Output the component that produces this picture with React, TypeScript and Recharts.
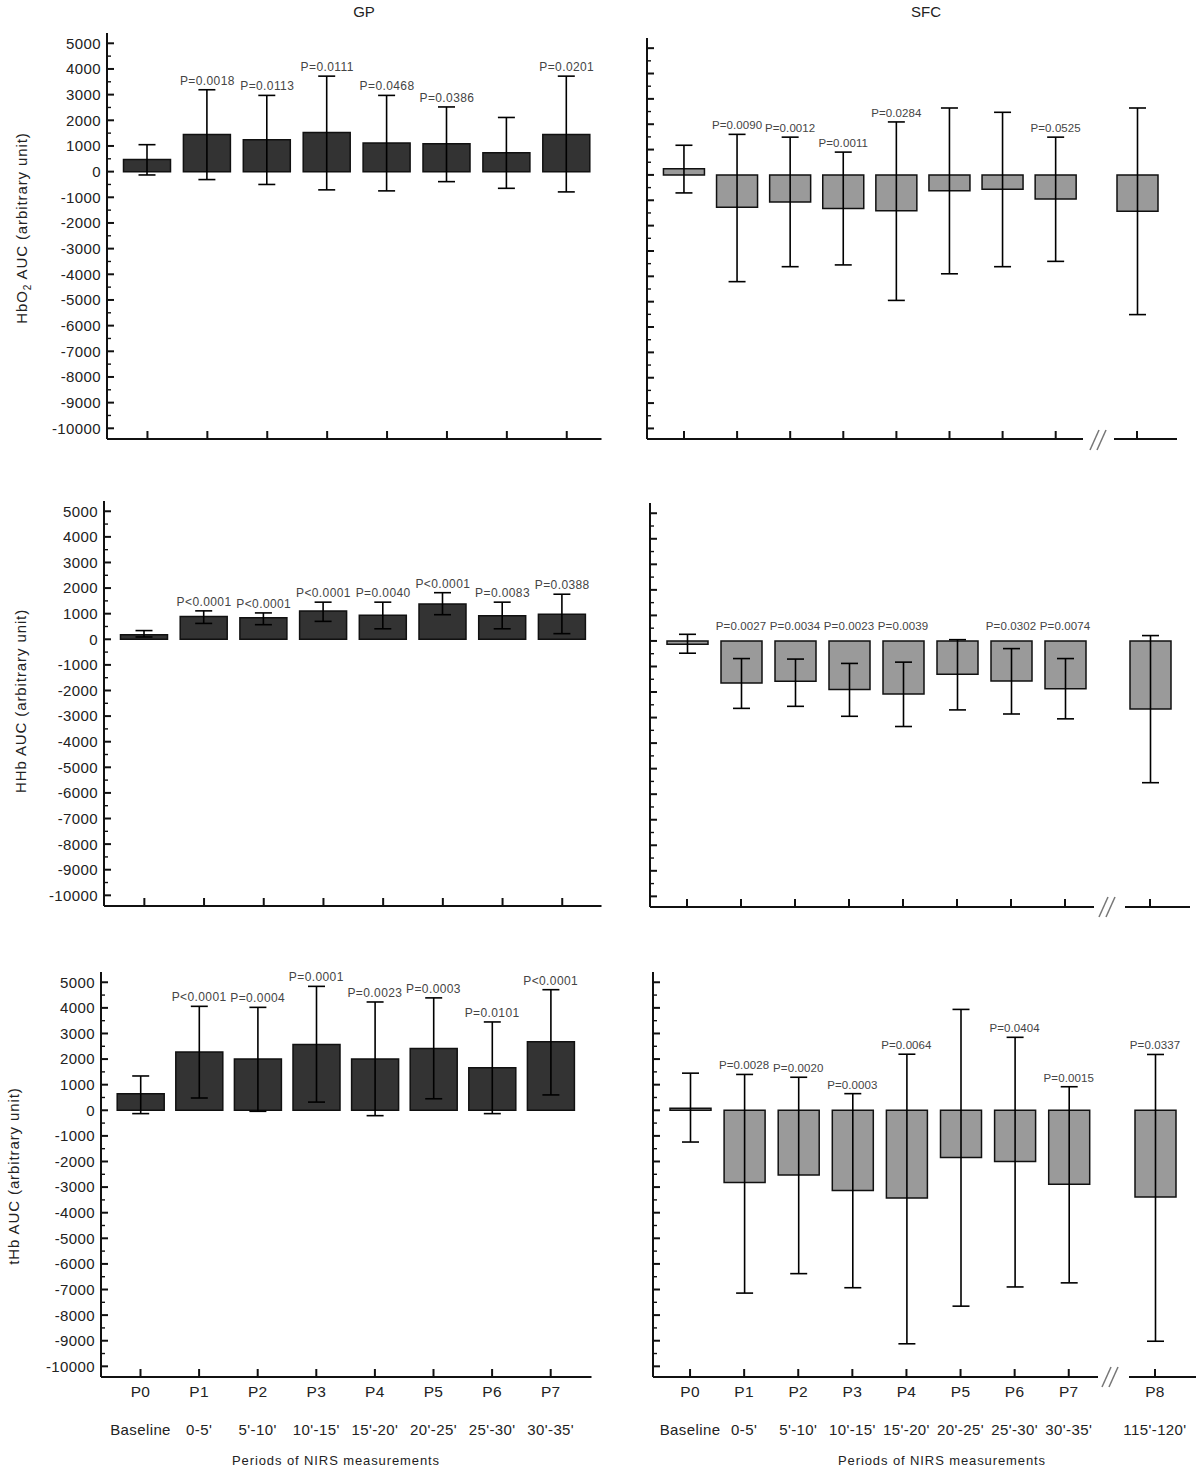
import React from 'react'
import { ComposedChart, Bar, ErrorBar, Line, LabelList, XAxis, YAxis } from 'recharts'

const periods = ['P0', 'P1', 'P2', 'P3', 'P4', 'P5', 'P6', 'P7', 'P8']
const windows = ['Baseline', "0-5'", "5'-10'", "10'-15'", "15'-20'", "20'-25'", "25'-30'", "30'-35'", "115'-120'"]
const majorTicks = [5000, 4000, 3000, 2000, 1000, 0, -1000, -2000, -3000, -4000, -5000, -6000, -7000, -8000, -9000, -10000]

// GP - HbO2
const gpHbo2Mean = [470, 1450, 1240, 1520, 1120, 1090, 740, 1450]
const gpHbo2Lo = [-130, -310, -500, -710, -750, -390, -650, -790]
const gpHbo2Hi = [1050, 3190, 2970, 3720, 2970, 2520, 2110, 3720]
const gpHbo2P = ['', 'P=0.0018', 'P=0.0113', 'P=0.0111', 'P=0.0468', 'P=0.0386', '', 'P=0.0201']

// SFC - HbO2
const sfcHbo2Mean = [240, -1280, -1070, -1320, -1410, -620, -570, -950, -1430]
const sfcHbo2Lo = [-710, -4210, -3620, -3550, -4950, -3900, -3620, -3410, -5510]
const sfcHbo2Hi = [1170, 1600, 1490, 900, 2090, 2640, 2470, 1490, 2640]
const sfcHbo2P = ['', 'P=0.0090', 'P=0.0012', 'P=0.0011', 'P=0.0284', '', '', 'P=0.0525', '']

// GP - HHb
const gpHhbMean = [180, 890, 840, 1100, 940, 1380, 920, 980]
const gpHhbLo = [90, 620, 570, 700, 410, 960, 410, 220]
const gpHhbHi = [340, 1110, 1030, 1450, 1450, 1820, 1450, 1760]
const gpHhbP = ['', 'P<0.0001', 'P<0.0001', 'P<0.0001', 'P=0.0040', 'P<0.0001', 'P=0.0083', 'P=0.0388']

// SFC - HHb
const sfcHhbMean = [-130, -1650, -1580, -1900, -2080, -1300, -1570, -1870, -2660]
const sfcHhbLo = [-480, -2640, -2560, -2950, -3350, -2700, -2860, -3050, -5550]
const sfcHhbHi = [260, -690, -710, -880, -830, 50, -300, -690, 210]
const sfcHhbP = ['', 'P=0.0027', 'P=0.0034', 'P=0.0023', 'P=0.0039', '', 'P=0.0302', 'P=0.0074', '']

// GP - tHb
const gpThbMean = [650, 2280, 2000, 2570, 2000, 2410, 1660, 2680]
const gpThbLo = [-130, 480, -40, 320, -210, 450, -130, 600]
const gpThbHi = [1340, 4060, 4020, 4840, 4230, 4390, 3450, 4710]
const gpThbP = ['', 'P<0.0001', 'P=0.0004', 'P=0.0001', 'P=0.0023', 'P=0.0003', 'P=0.0101', 'P<0.0001']

// SFC - tHb
const sfcThbMean = [80, -2820, -2530, -3130, -3430, -1840, -2000, -2890, -3390]
const sfcThbLo = [-1240, -7140, -6380, -6930, -9120, -7650, -6900, -6740, -9020]
const sfcThbHi = [1450, 1400, 1290, 650, 2190, 3940, 2850, 920, 2180]
const sfcThbP = ['', 'P=0.0028', 'P=0.0020', 'P=0.0003', 'P=0.0064', '', 'P=0.0404', 'P=0.0015', 'P=0.0337']

const FONT = '"Liberation Sans", Arial, sans-serif'
const DARK = '#333333'
const GRAY = '#9a9a9a'
const DOMAIN: [number, number] = [-10417, 5401]
const allTicks = majorTicks.flatMap((t) => (t > -10000 ? [t, t - 500] : [t]))

type Row = { name: string; time: string; mean: number; err: [number, number]; labelY: number; p: string }

const buildRows = (mean: number[], lo: number[], hi: number[], p: string[], from: number, to: number, labelAt?: number): Row[] =>
  periods.slice(from, to).map((name, j) => {
    const i = from + j
    return {
      name,
      time: windows[i],
      mean: mean[i],
      err: [mean[i] - lo[i], hi[i] - mean[i]],
      labelY: labelAt ?? hi[i],
      p: p[i]
    }
  })

type Frame = { left: number; top: number; width: number; height: number }

interface PanelProps {
  data: Row[]
  frame: Frame
  fill: string
  barSize: number
  padL: number
  padR: number
  yAxis: 'labels' | 'ticks' | 'none'
  xLabels: boolean
  pSize?: number
  pSpacing?: number
}

const MT = 40
const SIDE = 30 // spare room so outer tick texts are not cut
const noDot = () => <g />

function Panel({ data, frame, fill, barSize, padL, padR, yAxis, xLabels, pSize = 12, pSpacing = 0.4 }: PanelProps) {
  const yw = yAxis === 'labels' ? 60 : yAxis === 'ticks' ? 10 : 0
  const hx = xLabels ? 95 : 14
  const width = SIDE + yw + frame.width + SIDE
  const height = MT + frame.height + hx
  const axisY = MT + frame.height
  const axisX = SIDE + yw

  const renderYTick = (props: any) => {
    const v = props.payload.value
    const major = v % 1000 === 0
    return (
      <g>
        <line x1={axisX} x2={axisX + (major ? 7 : 4)} y1={props.y} y2={props.y} stroke="#111" strokeWidth={major ? 2 : 1.4} />
        {yAxis === 'labels' && major && (
          <text x={axisX - 6} y={props.y} dy="0.36em" textAnchor="end" fontSize={15} letterSpacing={0.4} fill="#222" fontFamily={FONT}>
            {v}
          </text>
        )}
      </g>
    )
  }

  const renderXTick = (props: any) => {
    const idx = periods.indexOf(props.payload.value)
    return (
      <g>
        <line x1={props.x} x2={props.x} y1={axisY} y2={axisY - 8} stroke="#111" strokeWidth={2} />
        {xLabels && (
          <text x={props.x} y={axisY + 14} dy="0.36em" textAnchor="middle" fontSize={15.5} letterSpacing={0.3} fill="#222" fontFamily={FONT}>
            {props.payload.value}
          </text>
        )}
        {xLabels && (
          <text x={props.x} y={axisY + 53} dy="0.36em" textAnchor="middle" fontSize={15} letterSpacing={0.4} fill="#222" fontFamily={FONT}>
            {windows[idx]}
          </text>
        )}
      </g>
    )
  }

  return (
    <div style={{ position: 'absolute', left: frame.left - yw - SIDE, top: frame.top - MT }}>
      <ComposedChart width={width} height={height} data={data} margin={{ top: MT, right: SIDE, left: SIDE, bottom: 0 }}>
        <XAxis
          dataKey="name"
          type="category"
          height={hx}
          padding={{ left: padL, right: padR }}
          axisLine={{ stroke: '#111', strokeWidth: 2 }}
          tickLine={false}
          tick={renderXTick}
          interval={0}
        />
        <YAxis
          type="number"
          domain={DOMAIN}
          ticks={allTicks}
          interval={0}
          allowDataOverflow
          width={yw}
          hide={yAxis === 'none'}
          axisLine={{ stroke: '#111', strokeWidth: 2 }}
          tickLine={false}
          tick={renderYTick}
        />
        <Bar dataKey="mean" fill={fill} stroke="#111" strokeWidth={1.5} barSize={barSize} isAnimationActive={false}>
          <ErrorBar dataKey="err" width={8.5} stroke="#000" strokeWidth={1.6} direction="y" />
        </Bar>
        <Line dataKey="labelY" stroke="none" dot={noDot} activeDot={false} legendType="none" isAnimationActive={false}>
          <LabelList dataKey="p" position="top" offset={5} fill="#444" fontSize={pSize} letterSpacing={pSpacing} fontFamily={FONT} />
        </Line>
      </ComposedChart>
    </div>
  )
}

const BreakMark = ({ x, y }: { x: number; y: number }) => (
  <g stroke="#777" strokeWidth={1.5}>
    <line x1={x} y1={y + 10} x2={x + 9} y2={y - 10} />
    <line x1={x + 7} y1={y + 10} x2={x + 16} y2={y - 10} />
  </g>
)

export default function App() {
  return (
    <div style={{ position: 'absolute', left: 0, top: 0, width: 1200, height: 1471, background: '#fff', fontFamily: FONT, overflow: 'hidden' }}>
      {/* row 1: HbO2 */}
      <Panel data={buildRows(gpHbo2Mean, gpHbo2Lo, gpHbo2Hi, gpHbo2P, 0, 8)} frame={{ left: 106.5, top: 33, width: 494.5, height: 406 }}
        fill={DARK} barSize={47} padL={10.5} padR={4.8} yAxis="labels" xLabels={false} />
      <Panel data={buildRows(sfcHbo2Mean, sfcHbo2Lo, sfcHbo2Hi, sfcHbo2P, 0, 8)} frame={{ left: 647, top: 38, width: 436, height: 401 }}
        fill={GRAY} barSize={41} padL={10.45} padR={0.75} yAxis="ticks" xLabels={false} pSize={11.5} pSpacing={0.1} />
      <Panel data={buildRows(sfcHbo2Mean, sfcHbo2Lo, sfcHbo2Hi, sfcHbo2P, 8, 9)} frame={{ left: 1114, top: 38, width: 63, height: 401 }}
        fill={GRAY} barSize={41} padL={0} padR={17} yAxis="none" xLabels={false} pSize={11.5} pSpacing={0.1} />

      {/* row 2: HHb */}
      <Panel data={buildRows(gpHhbMean, gpHhbLo, gpHhbHi, gpHhbP, 0, 8)} frame={{ left: 103.5, top: 501, width: 497.5, height: 405 }}
        fill={DARK} barSize={47} padL={10.5} padR={9.4} yAxis="labels" xLabels={false} />
      <Panel data={buildRows(sfcHhbMean, sfcHhbLo, sfcHhbHi, sfcHhbP, 0, 8, 250)} frame={{ left: 650, top: 503, width: 444, height: 404 }}
        fill={GRAY} barSize={41} padL={10} padR={2} yAxis="ticks" xLabels={false} pSize={11.5} pSpacing={0.1} />
      <Panel data={buildRows(sfcHhbMean, sfcHhbLo, sfcHhbHi, sfcHhbP, 8, 9)} frame={{ left: 1125, top: 503, width: 65, height: 404 }}
        fill={GRAY} barSize={41} padL={0} padR={15} yAxis="none" xLabels={false} pSize={11.5} pSpacing={0.1} />

      {/* row 3: tHb */}
      <Panel data={buildRows(gpThbMean, gpThbLo, gpThbHi, gpThbP, 0, 8)} frame={{ left: 100.5, top: 972, width: 490.5, height: 405 }}
        fill={DARK} barSize={47} padL={10.2} padR={11.5} yAxis="labels" xLabels />
      <Panel data={buildRows(sfcThbMean, sfcThbLo, sfcThbHi, sfcThbP, 0, 8)} frame={{ left: 653, top: 972, width: 445, height: 405 }}
        fill={GRAY} barSize={41} padL={10} padR={2.2} yAxis="ticks" xLabels pSize={11.5} pSpacing={0.1} />
      <Panel data={buildRows(sfcThbMean, sfcThbLo, sfcThbHi, sfcThbP, 8, 9)} frame={{ left: 1129, top: 972, width: 67, height: 405 }}
        fill={GRAY} barSize={41} padL={0} padR={15} yAxis="none" xLabels pSize={11.5} pSpacing={0.1} />

      {/* titles, axis titles and axis breaks */}
      <svg width={1200} height={1471} style={{ position: 'absolute', left: 0, top: 0, pointerEvents: 'none' }} fontFamily={FONT}>
        <text x={364} y={12} dy="0.36em" textAnchor="middle" fontSize={15} fill="#222">GP</text>
        <text x={926} y={12} dy="0.36em" textAnchor="middle" fontSize={15} fill="#222">SFC</text>

        <text transform="rotate(-90, 22, 228)" x={22} y={228} dy="0.36em" textAnchor="middle" fontSize={15} letterSpacing={0.9} fill="#222">
          HbO<tspan dy={4} fontSize={10}>2</tspan><tspan dy={-4}> AUC (arbitrary unit)</tspan>
        </text>
        <text transform="rotate(-90, 21, 701)" x={21} y={701} dy="0.36em" textAnchor="middle" fontSize={15} letterSpacing={0.9} fill="#222">
          HHb AUC (arbitrary unit)
        </text>
        <text transform="rotate(-90, 14, 1176)" x={14} y={1176} dy="0.36em" textAnchor="middle" fontSize={15} letterSpacing={0.9} fill="#222">
          tHb AUC (arbitrary unit)
        </text>

        <text x={336} y={1460} dy="0.36em" textAnchor="middle" fontSize={13} letterSpacing={0.9} fill="#222">Periods of NIRS measurements</text>
        <text x={942} y={1460} dy="0.36em" textAnchor="middle" fontSize={13} letterSpacing={0.9} fill="#222">Periods of NIRS measurements</text>

        <BreakMark x={1090} y={440} />
        <BreakMark x={1099} y={907} />
        <BreakMark x={1102} y={1377} />
      </svg>
    </div>
  )
}
